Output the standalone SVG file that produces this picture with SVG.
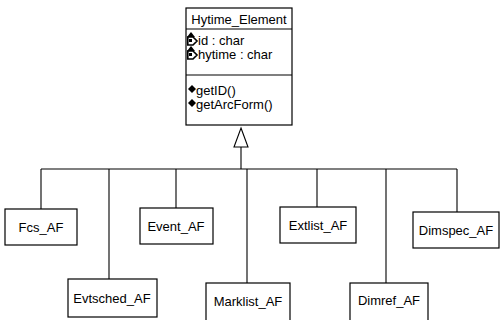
<svg xmlns="http://www.w3.org/2000/svg" width="501" height="320" viewBox="0 0 501 320">
<style>
.box{fill:#fff;stroke:#000;stroke-width:1.2}
.t{font-family:"Liberation Sans",Arial,sans-serif;font-size:13px;fill:#000}
.c{text-anchor:middle}
.ln{stroke:#000;stroke-width:1.1;fill:none}
</style>
<defs>
<g id="attr"><path d="M0,-4 L4,-9 L8,-4 Z" fill="#000"/><path d="M0.8,-4 L6,-4 L10,0 L6,4 L0.8,4 Z" fill="none" stroke="#000" stroke-width="1.6"/><rect x="2" y="-2" width="3" height="3" fill="#000"/></g>
<path id="op" d="M0,-8 L4,-4 L0,0 L-4,-4 Z" fill="#000"/>
</defs>
<rect width="501" height="320" fill="#fff"/>
<g id="connectors">
<path class="ln" d="M241,147 V169 M41,169 H457 M41,169 V209 M109,169 V279 M176,169 V208 M247,169 V283 M317,169 V207 M386,169 V283 M457,169 V212"/>
<path d="M241,128 L248,147 L234,147 Z" fill="#fff" stroke="#000" stroke-width="1.1"/>
</g>
<g id="Hytime_Element">
<rect class="box" x="186" y="8" width="106" height="117"/>
<path class="ln" d="M186,29 H292 M186,75 H292"/>
<text class="t c" x="239" y="24">Hytime_Element</text>
<use href="#attr" x="187" y="41"/>
<text class="t" x="198" y="45">id : char</text>
<use href="#attr" x="187" y="55"/>
<text class="t" x="198" y="59">hytime : char</text>
<use href="#op" x="192" y="93"/>
<text class="t" x="196" y="95">getID()</text>
<use href="#op" x="192" y="107"/>
<text class="t" x="196" y="109">getArcForm()</text>
</g>
<g id="Fcs_AF"><rect class="box" x="5" y="209" width="72" height="36"/><text class="t c" x="41" y="232">Fcs_AF</text></g>
<g id="Evtsched_AF"><rect class="box" x="68" y="279" width="89" height="38"/><text class="t c" x="112" y="303">Evtsched_AF</text></g>
<g id="Event_AF"><rect class="box" x="140" y="208" width="73" height="36"/><text class="t c" x="176" y="231">Event_AF</text></g>
<g id="Marklist_AF"><rect class="box" x="206" y="283" width="84" height="40"/><text class="t c" x="248" y="306">Marklist_AF</text></g>
<g id="Extlist_AF"><rect class="box" x="280" y="207" width="76" height="36"/><text class="t c" x="318" y="230">Extlist_AF</text></g>
<g id="Dimref_AF"><rect class="box" x="350" y="283" width="78" height="40"/><text class="t c" x="389" y="305">Dimref_AF</text></g>
<g id="Dimspec_AF"><rect class="box" x="413" y="212" width="86" height="36"/><text class="t c" x="456" y="235">Dimspec_AF</text></g>
</svg>
